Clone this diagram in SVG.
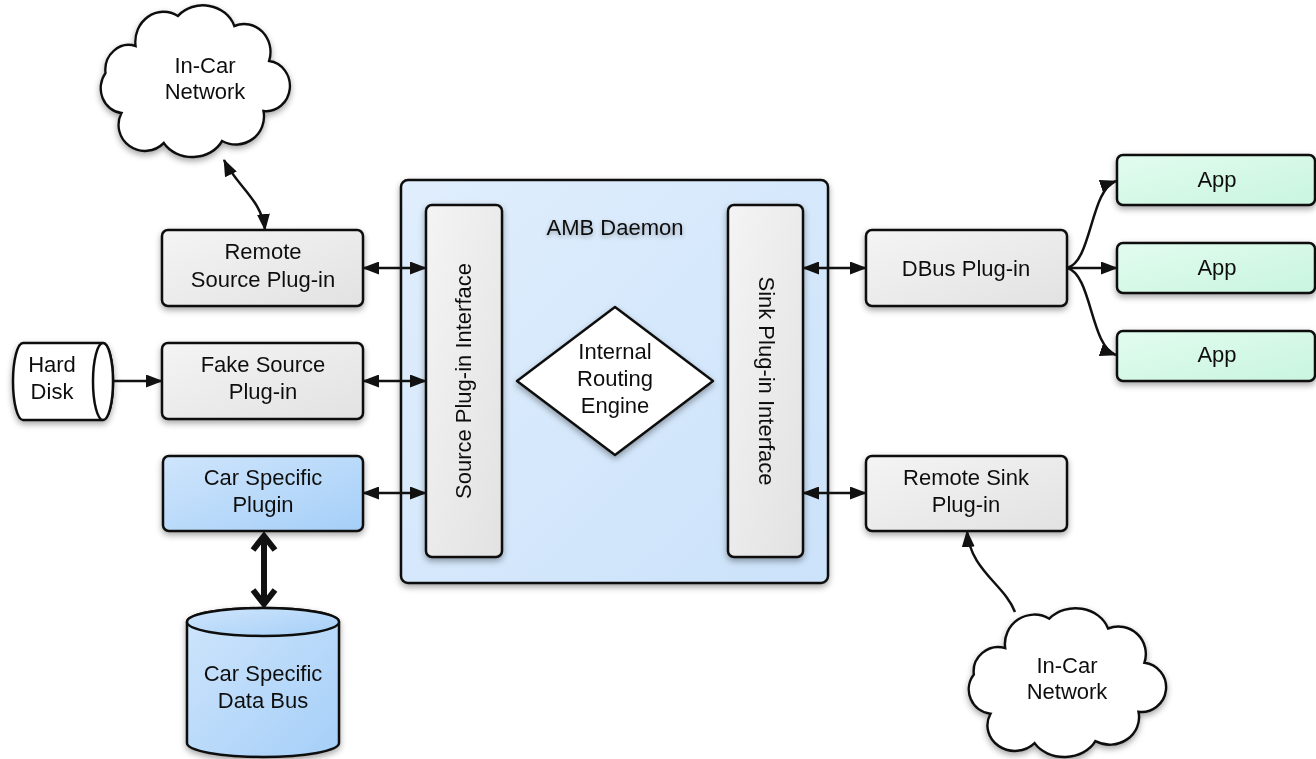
<svg xmlns="http://www.w3.org/2000/svg" width="1316" height="759" viewBox="0 0 1316 759">
<style>
  .box{stroke:#111;stroke-width:2.5}
  .grey{fill:url(#gGrey)}
  .blue{fill:url(#gBlue)}
  .green{fill:url(#gGreen)}
  .white{fill:#fff}
  .lbl{font-family:"Liberation Sans",Arial,sans-serif;font-size:22px;fill:#111;text-anchor:middle}
  .con{fill:none;stroke:#111;stroke-width:2.5}
</style>
<defs>
  <linearGradient id="gGrey" x1="0" y1="0" x2="1" y2="1">
    <stop offset="0" stop-color="#f4f4f4"/><stop offset="1" stop-color="#e2e2e2"/>
  </linearGradient>
  <linearGradient id="gBlue" x1="0" y1="0" x2="1" y2="1">
    <stop offset="0" stop-color="#cfe5fc"/><stop offset="1" stop-color="#a5cff8"/>
  </linearGradient>
  <linearGradient id="gDaemon" x1="0" y1="0" x2="1" y2="1">
    <stop offset="0" stop-color="#e0eefd"/><stop offset="1" stop-color="#cbe2fa"/>
  </linearGradient>
  <linearGradient id="gGreen" x1="0" y1="0" x2="1" y2="1">
    <stop offset="0" stop-color="#e2fcef"/><stop offset="1" stop-color="#c9f5df"/>
  </linearGradient>
  <filter id="sh" x="-20%" y="-20%" width="140%" height="150%">
    <feDropShadow dx="0" dy="3" stdDeviation="3" flood-color="#000" flood-opacity="0.35"/>
  </filter>
  <filter id="tsh" x="-20%" y="-50%" width="140%" height="200%">
    <feDropShadow dx="0" dy="2" stdDeviation="2" flood-color="#000" flood-opacity="0.3"/>
  </filter>
  <marker id="ah" viewBox="0 0 17 13" refX="16" refY="6.5" markerWidth="17" markerHeight="13" markerUnits="userSpaceOnUse" orient="auto-start-reverse">
    <path d="M0,0 L17,6.5 L0,13 Z" fill="#111"/>
  </marker>
  <path id="cloud" d="M40,45 A30,30 0 0 1 85,15 A35,30 0 0 1 145,25 A28,28 0 0 1 182,60 A25,25 0 0 1 176,110 A30,28 0 0 1 132,140 A35,28 0 0 1 70,142 A28,26 0 0 1 25,112 A25,25 0 0 1 8,72 A25,25 0 0 1 40,45 Z"/>
</defs>

<g id="cloud-top" filter="url(#sh)">
  <use href="#cloud" transform="translate(98,1) scale(0.94,1.0)" class="white" stroke="#111" stroke-width="2.5"/>
  <text class="lbl" x="205" y="73">In-Car</text>
  <text class="lbl" x="205" y="99">Network</text>
</g>

<g id="remote-source" filter="url(#sh)">
  <rect class="box grey" x="162" y="230" width="201" height="76" rx="6"/>
  <text class="lbl" x="263" y="259">Remote</text>
  <text class="lbl" x="263" y="287">Source Plug-in</text>
</g>

<g id="fake-source" filter="url(#sh)">
  <rect class="box grey" x="162" y="343" width="201" height="76" rx="6"/>
  <text class="lbl" x="263" y="372">Fake Source</text>
  <text class="lbl" x="263" y="399">Plug-in</text>
</g>

<g id="hard-disk" filter="url(#sh)">
  <path class="box white" d="M23,343 L103,343 A10,38.5 0 0 1 103,420 L23,420 A10,38.5 0 0 1 23,343 Z"/>
  <ellipse class="box white" cx="103" cy="381.5" rx="10" ry="38.5"/>
  <text class="lbl" x="52" y="372">Hard</text>
  <text class="lbl" x="52" y="399">Disk</text>
</g>

<g id="car-plugin" filter="url(#sh)">
  <rect class="box blue" x="163" y="456" width="200" height="75" rx="6"/>
  <text class="lbl" x="263" y="485">Car Specific</text>
  <text class="lbl" x="263" y="512">Plugin</text>
</g>

<g id="data-bus" filter="url(#sh)">
  <path class="box blue" d="M187,622 L187,743 A76,14 0 0 0 339,743 L339,622 A76,14 0 0 0 187,622 Z"/>
  <ellipse class="box blue" cx="263" cy="622" rx="76" ry="14"/>
  <text class="lbl" x="263" y="681">Car Specific</text>
  <text class="lbl" x="263" y="708">Data Bus</text>
</g>

<g id="amb-daemon" filter="url(#sh)">
  <rect class="box" fill="url(#gDaemon)" x="401" y="180" width="427" height="403" rx="7"/>
  <text class="lbl" x="615" y="235" filter="url(#tsh)">AMB Daemon</text>
</g>

<g id="source-interface" filter="url(#sh)">
  <rect class="box grey" x="426" y="205" width="76" height="352" rx="6"/>
  <text class="lbl" transform="translate(471,381) rotate(-90)" x="0" y="0">Source Plug-in Interface</text>
</g>

<g id="sink-interface" filter="url(#sh)">
  <rect class="box grey" x="728" y="205" width="75" height="352" rx="6"/>
  <text class="lbl" transform="translate(759,381) rotate(90)" x="0" y="0">Sink Plug-in Interface</text>
</g>

<g id="routing-engine" filter="url(#sh)">
  <path class="box white" stroke-linejoin="round" d="M615,307 L713,381 L615,455 L517,381 Z"/>
  <text class="lbl" x="615" y="359">Internal</text>
  <text class="lbl" x="615" y="386">Routing</text>
  <text class="lbl" x="615" y="413">Engine</text>
</g>

<g id="dbus" filter="url(#sh)">
  <rect class="box grey" x="866" y="230" width="201" height="76" rx="6"/>
  <text class="lbl" x="966" y="276">DBus Plug-in</text>
</g>

<g id="app1" filter="url(#sh)">
  <rect class="box green" x="1117" y="155" width="198" height="50" rx="6"/>
  <text class="lbl" x="1217" y="187">App</text>
</g>
<g id="app2" filter="url(#sh)">
  <rect class="box green" x="1117" y="243" width="198" height="50" rx="6"/>
  <text class="lbl" x="1217" y="275">App</text>
</g>
<g id="app3" filter="url(#sh)">
  <rect class="box green" x="1117" y="331" width="198" height="50" rx="6"/>
  <text class="lbl" x="1217" y="362">App</text>
</g>

<g id="remote-sink" filter="url(#sh)">
  <rect class="box grey" x="866" y="456" width="201" height="75" rx="6"/>
  <text class="lbl" x="966" y="485">Remote Sink</text>
  <text class="lbl" x="966" y="512">Plug-in</text>
</g>

<g id="cloud-bottom" filter="url(#sh)">
  <use href="#cloud" transform="translate(966,604) scale(0.98,0.98)" class="white" stroke="#111" stroke-width="2.5"/>
  <text class="lbl" x="1067" y="673">In-Car</text>
  <text class="lbl" x="1067" y="699">Network</text>
</g>

<g id="connectors">
  <path class="con" d="M224,160 C236,185 262,200 265,230" marker-start="url(#ah)" marker-end="url(#ah)"/>
  <path class="con" d="M363,268 L426,268" marker-start="url(#ah)" marker-end="url(#ah)"/>
  <path class="con" d="M363,381 L426,381" marker-start="url(#ah)" marker-end="url(#ah)"/>
  <path class="con" d="M363,493 L426,493" marker-start="url(#ah)" marker-end="url(#ah)"/>
  <path class="con" d="M113,381 L162,381" marker-end="url(#ah)"/>
  <path class="con" d="M803,268 L866,268" marker-start="url(#ah)" marker-end="url(#ah)"/>
  <path class="con" d="M803,493 L866,493" marker-start="url(#ah)" marker-end="url(#ah)"/>
  <path class="con" d="M1067,268 C1092,262 1090,190 1116,181" marker-end="url(#ah)"/>
  <path class="con" d="M1067,268 L1117,268" marker-end="url(#ah)"/>
  <path class="con" d="M1067,268 C1092,274 1090,346 1116,355" marker-end="url(#ah)"/>
  <path class="con" d="M1015,612 C1005,585 970,570 967,531" marker-end="url(#ah)"/>
  <g id="thick-arrow" fill="none" stroke="#111" stroke-width="6">
    <path d="M264,537 L264,603"/>
    <path d="M253,550 L264,536 L275,550"/>
    <path d="M253,590 L264,604 L275,590"/>
  </g>
</g>
</svg>
